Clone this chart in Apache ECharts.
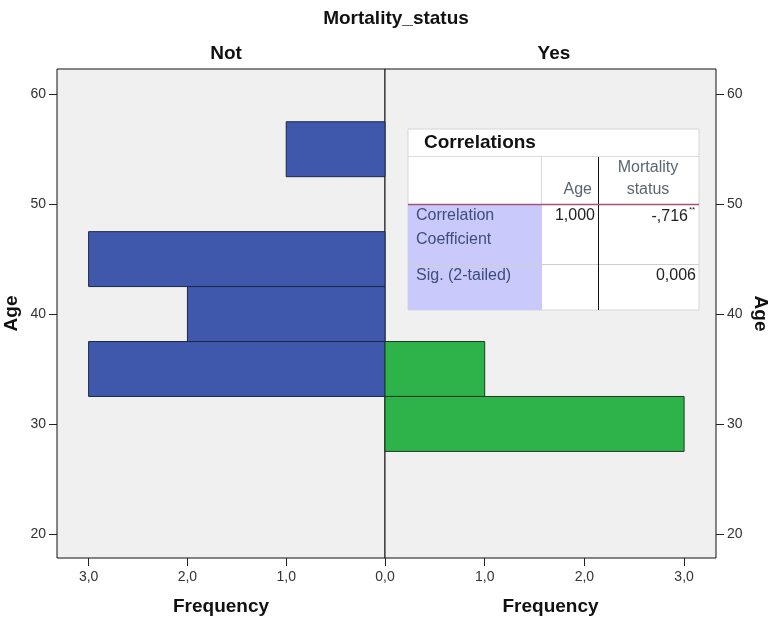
<!DOCTYPE html>
<html>
<head>
<meta charset="utf-8">
<script src="https://cdn.jsdelivr.net/npm/echarts@6/dist/echarts.min.js"></script>
<style>html,body{margin:0;padding:0;background:#fff;}#c{width:771px;height:620px;}</style>
</head>
<body>
<div id="c"></div>
<script>
// ---- data ----
var panelNames = ['Not', 'Yes'];
var binLow = [52.5, 42.5, 37.5, 32.5];           // Not panel bins (lower edge)
var binHigh = [57.5, 47.5, 42.5, 37.5];          // Not panel bins (upper edge)
var notFreq = [1, 3, 2, 3];
var yesLow = [32.5, 27.5];
var yesHigh = [37.5, 32.5];
var yesFreq = [1, 3];
var ageTicks = [20, 30, 40, 50, 60];
var freqTicksLeft = [1, 2, 3];
var freqTicksRight = [0, 1, 2, 3];
var tableTitle = 'Correlations';
var tableRows = ['Correlation\nCoefficient', 'Sig. (2-tailed)'];
var tableCols = ['Age', 'Mortality\nstatus'];
var corrAge = ['1,000', ''];
var corrMort = ['-,716', '0,006'];

var notData = binLow.map(function (lo, i) { return [lo, binHigh[i], notFreq[i]]; });
var yesData = yesLow.map(function (lo, i) { return [lo, yesHigh[i], yesFreq[i]]; });

function renderBar(color, border) {
  return function (params, api) {
    var lo = api.value(0), hi = api.value(1), f = api.value(2);
    var p1 = api.coord([0, hi]);
    var p2 = api.coord([f, lo]);
    var x = Math.min(p1[0], p2[0]), w = Math.abs(p2[0] - p1[0]);
    var y = Math.min(p1[1], p2[1]), h = Math.abs(p2[1] - p1[1]);
    return {
      type: 'rect',
      shape: { x: x, y: y, width: w, height: h },
      style: { fill: color, stroke: border, lineWidth: 1 }
    };
  };
}

var FONT = 'Liberation Sans, Arial, sans-serif';
function fmt(v) { return v.toFixed(1).replace('.', ','); }

var yAxisCommon = {
  type: 'value', min: 17.8, max: 62.3,
  axisLine: { show: false, onZero: false },
  splitLine: { show: false },
  axisTick: { show: true, length: 8, customValues: ageTicks, lineStyle: { color: '#222' } },
  axisLabel: { customValues: ageTicks, color: '#333', fontSize: 14, fontFamily: FONT, margin: 11 },
  name: 'Age', nameLocation: 'middle',
  nameTextStyle: { fontSize: 19, fontWeight: 'bold', fontFamily: FONT, color: '#111' }
};
var xAxisCommon = {
  type: 'value', min: 0, max: 3.32,
  axisLine: { show: false, onZero: false },
  splitLine: { show: false },
  axisTick: { show: true, length: 8, lineStyle: { color: '#222' } },
  axisLabel: { color: '#333', fontSize: 14, fontFamily: FONT, margin: 12, formatter: fmt },
  name: 'Frequency', nameLocation: 'middle', nameGap: 39,
  nameTextStyle: { fontSize: 19, fontWeight: 'bold', fontFamily: FONT, color: '#111' }
};

function merge(a, b) { return Object.assign({}, a, b); }

// table graphics (absolute pixel layout)
var TX = 408, TY = 129, TW = 291;
var tableGraphic = [
  { type: 'rect', z: 100, silent: true, shape: { x: TX, y: TY, width: TW, height: 181 }, style: { fill: '#ffffff', stroke: '#d6d6d6', lineWidth: 1 } },
  { type: 'rect', z: 101, silent: true, shape: { x: TX, y: 205, width: 134, height: 105 }, style: { fill: '#c9c9fb' } },
  { type: 'line', z: 102, silent: true, shape: { x1: TX, y1: 156.5, x2: TX + TW, y2: 156.5 }, style: { stroke: '#dcdcdc', lineWidth: 1 } },
  { type: 'line', z: 102, silent: true, shape: { x1: TX, y1: 264.5, x2: TX + TW, y2: 264.5 }, style: { stroke: '#cfcfcf', lineWidth: 1 } },
  { type: 'line', z: 102, silent: true, shape: { x1: 541.5, y1: 157, x2: 541.5, y2: 205 }, style: { stroke: '#dcdcdc', lineWidth: 1 } },
  { type: 'line', z: 102, silent: true, shape: { x1: 598.5, y1: 157, x2: 598.5, y2: 310 }, style: { stroke: '#111', lineWidth: 1 } },
  { type: 'line', z: 102, silent: true, shape: { x1: TX, y1: 204.5, x2: TX + TW, y2: 204.5 }, style: { stroke: '#a5537a', lineWidth: 1.5 } },
  { type: 'text', z: 103, silent: true, x: 424, y: 143, style: { text: tableTitle, font: 'bold 19px ' + FONT, fill: '#111', textVerticalAlign: 'middle' } },
  { type: 'text', z: 103, silent: true, x: 592, y: 190, style: { text: tableCols[0], font: '16px ' + FONT, fill: '#5b6673', textAlign: 'right', textVerticalAlign: 'middle' } },
  { type: 'text', z: 103, silent: true, x: 648, y: 179, style: { text: tableCols[1], font: '16px ' + FONT, fill: '#5b6673', textAlign: 'center', textVerticalAlign: 'middle', lineHeight: 22 } },
  { type: 'text', z: 103, silent: true, x: 416, y: 228, style: { text: tableRows[0], font: '16px ' + FONT, fill: '#3f4d78', textVerticalAlign: 'middle', lineHeight: 24 } },
  { type: 'text', z: 103, silent: true, x: 416, y: 276, style: { text: tableRows[1], font: '16px ' + FONT, fill: '#3f4d78', textVerticalAlign: 'middle' } },
  { type: 'text', z: 103, silent: true, x: 595, y: 216, style: { text: corrAge[0], font: '16px ' + FONT, fill: '#222', textAlign: 'right', textVerticalAlign: 'middle' } },
  { type: 'text', z: 103, silent: true, x: 595, y: 276, style: { text: corrAge[1], font: '16px ' + FONT, fill: '#222', textAlign: 'right', textVerticalAlign: 'middle' } },
  { type: 'text', z: 103, silent: true, x: 688, y: 217, style: { text: corrMort[0], font: '16px ' + FONT, fill: '#222', textAlign: 'right', textVerticalAlign: 'middle' } },
  { type: 'text', z: 103, silent: true, x: 689, y: 210, style: { text: '**', font: '8px ' + FONT, fill: '#222', textAlign: 'left', textVerticalAlign: 'middle' } },
  { type: 'text', z: 103, silent: true, x: 696, y: 276, style: { text: corrMort[1], font: '16px ' + FONT, fill: '#222', textAlign: 'right', textVerticalAlign: 'middle' } }
];

var chart = echarts.init(document.getElementById('c'), null, { renderer: 'canvas' });
chart.setOption({
  backgroundColor: '#ffffff',
  animation: false,
  title: [
    { text: 'Mortality_status', left: 391, top: 4, textAlign: 'center', textStyle: { fontSize: 19, fontWeight: 'bold', fontFamily: FONT, color: '#111' } },
    { text: panelNames[0], left: 221, top: 39, textAlign: 'center', textStyle: { fontSize: 19, fontWeight: 'bold', fontFamily: FONT, color: '#111' } },
    { text: panelNames[1], left: 549, top: 39, textAlign: 'center', textStyle: { fontSize: 19, fontWeight: 'bold', fontFamily: FONT, color: '#111' } }
  ],
  grid: [
    { left: 57, top: 69, width: 328, height: 489, show: true, backgroundColor: '#f0f0f0', borderColor: '#111', borderWidth: 1, containLabel: false, outerBoundsMode: 'none' },
    { left: 385, top: 69, width: 331, height: 489, show: true, backgroundColor: '#f0f0f0', borderColor: '#111', borderWidth: 1, containLabel: false, outerBoundsMode: 'none' }
  ],
  xAxis: [
    merge(xAxisCommon, { gridIndex: 0, inverse: true, axisTick: merge(xAxisCommon.axisTick, { customValues: freqTicksLeft }), axisLabel: merge(xAxisCommon.axisLabel, { customValues: freqTicksLeft }) }),
    merge(xAxisCommon, { gridIndex: 1, axisTick: merge(xAxisCommon.axisTick, { customValues: freqTicksRight }), axisLabel: merge(xAxisCommon.axisLabel, { customValues: freqTicksRight }) })
  ],
  yAxis: [
    merge(yAxisCommon, { gridIndex: 0, position: 'left', nameRotate: 90, nameGap: 36 }),
    merge(yAxisCommon, { gridIndex: 1, position: 'right', nameRotate: -90, nameGap: 35 })
  ],
  series: [
    { type: 'custom', xAxisIndex: 0, yAxisIndex: 0, data: notData, renderItem: renderBar('#3f58ab', '#1d2647'), z: 2 },
    { type: 'custom', xAxisIndex: 1, yAxisIndex: 1, data: yesData, renderItem: renderBar('#2db34a', '#1d3a22'), z: 2 }
  ],
  graphic: tableGraphic
});
</script>
</body>
</html>
